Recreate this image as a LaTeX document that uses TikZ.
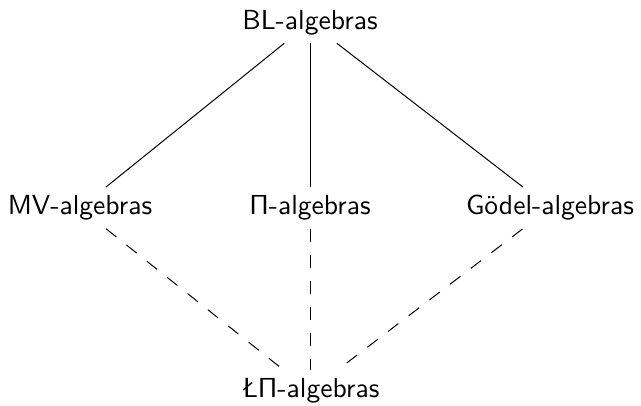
\documentclass[tikz,border=0pt]{standalone}
\usepackage{graphicx}
% labels are set at 10pt and enlarged, so text and math Pi keep the same size
\newcommand{\biglabel}[1]{\scalebox{2.76}{\sffamily #1}}
\begin{document}
\begin{tikzpicture}[x=1pt,y=-1pt,
  alg/.style={inner xsep=4pt,inner ysep=8.2pt},
  edge/.style={line width=1pt},
  dashedge/.style={line width=1pt,dash pattern=on 13pt off 13pt}]
  \useasboundingbox (0,0) rectangle (641,405);
  \node[alg] (bl) at (310,22.5) {\biglabel{BL-algebras}};
  \node[alg] (mv) at (80,208) {\biglabel{MV-algebras}};
  \node[alg] (pi) at (310,208) {\biglabel{$\mathsf{\Pi}$-algebras}};
  \node[alg] (go) at (550,208) {\biglabel{G\"odel-algebras}};
  \node[alg] (lp) at (310,391) {\biglabel{\L$\mathsf{\Pi}$-algebras}};
  \draw[edge] (bl) -- (mv);
  \draw[edge] (bl) -- (pi);
  \draw[edge] (bl) -- (go);
  \draw[dashedge] (mv) -- (lp);
  \draw[dashedge] (pi) -- (lp);
  \draw[dashedge] (go) -- (lp);
\end{tikzpicture}
\end{document}
